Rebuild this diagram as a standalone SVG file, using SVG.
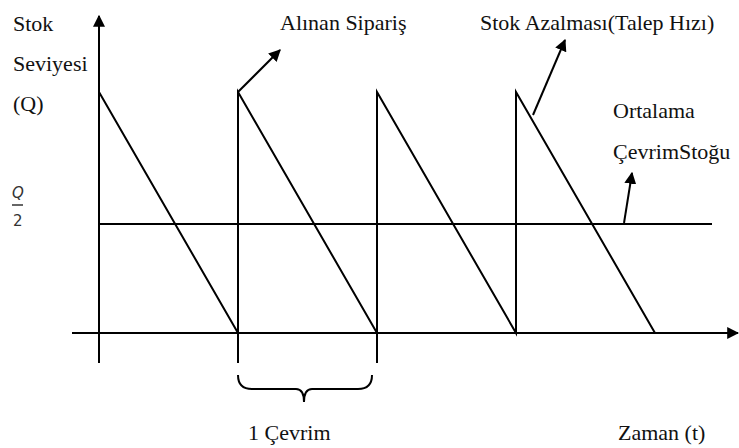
<svg xmlns="http://www.w3.org/2000/svg" width="739" height="448" viewBox="0 0 739 448">
  <style>
    .ln { stroke: #000; stroke-width: 2; fill: none; }
    .t { font-family: "Liberation Serif", "Times New Roman", Times, serif; font-size: 22px; fill: #111; }
    .m { font-family: "DejaVu Sans", "Noto Sans", sans-serif; font-size: 15px; fill: #333; }
  </style>
  <defs>
    <marker id="ah" viewBox="0 0 10 10" refX="9" refY="5" markerWidth="6" markerHeight="6" orient="auto" markerUnits="strokeWidth">
      <path d="M0,0 L10,5 L0,10 z" fill="#000"/>
    </marker>
  </defs>

  <g id="axes">
    <line class="ln" x1="99" y1="363" x2="99" y2="16" marker-end="url(#ah)"/>
    <line class="ln" x1="72" y1="333" x2="738" y2="333" marker-end="url(#ah)"/>
  </g>

  <g id="sawtooth">
    <polyline class="ln" points="99,92 238,333 238,92 377,333 377,92 516,333 516,92 655,333"/>
    <line class="ln" x1="238" y1="333" x2="238" y2="363"/>
    <line class="ln" x1="377" y1="333" x2="377" y2="363"/>
  </g>

  <g id="average-line">
    <line class="ln" x1="99" y1="224" x2="712" y2="224"/>
  </g>

  <g id="connectors">
    <line class="ln" x1="238" y1="92" x2="280" y2="50" marker-end="url(#ah)"/>
    <line class="ln" x1="533" y1="115" x2="565" y2="40" marker-end="url(#ah)"/>
    <line class="ln" x1="624" y1="223" x2="632" y2="173" marker-end="url(#ah)"/>
  </g>

  <g id="cycle-brace">
    <path class="ln" stroke-width="1.6" d="M238,375 Q238,389 252,389 L296,389 Q304,389 304,402 Q304,389 312,389 L358,389 Q372,389 372,375"/>
  </g>

  <g id="labels" font-family="Liberation Serif, serif" font-size="22" fill="#111">
    <text x="13" y="31">Stok</text>
    <text x="13" y="71">Seviyesi</text>
    <text x="13" y="111">(Q)</text>
    <text x="280" y="30">Alınan Sipariş</text>
    <text x="480" y="30">Stok Azalması(Talep Hızı)</text>
    <text x="613" y="118">Ortalama</text>
    <text x="613" y="159">ÇevrimStoğu</text>
    <text x="248" y="440">1 Çevrim</text>
    <text x="618" y="440">Zaman (t)</text>
    <text class="m" x="12" y="198" font-style="italic">Q</text>
    <line x1="12" y1="205" x2="23" y2="205" stroke="#333" stroke-width="1.5"/>
    <text class="m" x="13" y="226">2</text>
  </g>
</svg>
